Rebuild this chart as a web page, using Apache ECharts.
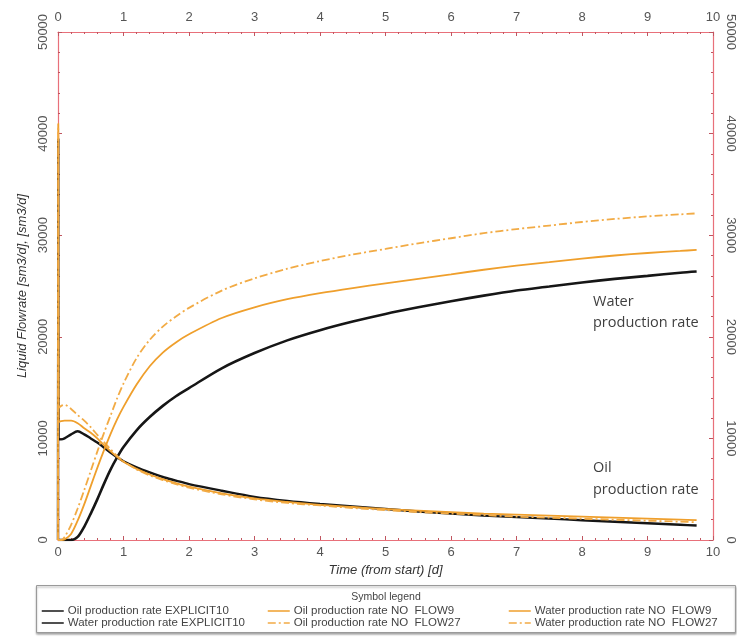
<!DOCTYPE html>
<html>
<head>
<meta charset="utf-8">
<script src="https://cdn.jsdelivr.net/npm/echarts@6/dist/echarts.min.js"></script>
<style>
html,body{margin:0;padding:0;background:#fff;}
#chart{width:737px;height:637px;}
</style>
</head>
<body>
<div id="chart"></div>
<script>
// ---- data ----
var timeDays = [0, 0.004, 0.008, 0.05, 0.1, 0.2, 0.3, 0.4, 0.5, 0.6, 0.7, 0.8, 0.9, 1.0, 1.2, 1.4, 1.6, 1.8, 2.0, 2.5, 3.0, 3.5, 4.0, 4.5, 5.0, 5.5, 6.0, 6.5, 7.0, 7.5, 8.0, 8.5, 9.0, 9.5, 9.75];

var oilExplicit10 = [0, 39500, 9900, 9900, 10000, 10400, 10700, 10400, 10000, 9600, 9100, 8600, 8150, 7750, 7150, 6650, 6200, 5850, 5500, 4850, 4250, 3850, 3550, 3300, 3050, 2800, 2600, 2400, 2250, 2100, 1950, 1800, 1650, 1500, 1420];
var waterExplicit10 = [0, 0, 0, 0, 0, 0, 300, 1300, 2600, 4000, 5500, 6900, 8100, 9150, 10800, 12100, 13200, 14150, 14950, 16900, 18400, 19650, 20650, 21500, 22250, 22900, 23500, 24050, 24550, 24950, 25350, 25700, 26000, 26300, 26420];
var oilNoFlow9 = [0, 41000, 11600, 11700, 11750, 11750, 11500, 11000, 10550, 10000, 9350, 8750, 8200, 7700, 7000, 6450, 6000, 5600, 5250, 4600, 4100, 3750, 3450, 3250, 3050, 2900, 2750, 2600, 2500, 2400, 2300, 2200, 2100, 2000, 1950];
var oilNoFlow27 = [0, 40500, 13000, 13200, 13300, 12900, 12300, 11750, 11100, 10350, 9650, 8950, 8300, 7750, 6950, 6350, 5900, 5500, 5150, 4500, 4000, 3650, 3400, 3150, 2950, 2750, 2600, 2450, 2300, 2200, 2100, 2000, 1900, 1800, 1750];
var waterNoFlow9 = [0, 0, 0, 0, 50, 600, 1900, 3500, 5300, 7100, 8800, 10400, 11850, 13100, 15300, 17100, 18450, 19450, 20250, 21850, 22900, 23700, 24300, 24800, 25250, 25700, 26150, 26600, 27000, 27350, 27700, 28000, 28250, 28450, 28550];
var waterNoFlow27 = [0, 0, 0, 0, 300, 1500, 3100, 4900, 6800, 8700, 10500, 12200, 13900, 15400, 17900, 19700, 21000, 22000, 22850, 24550, 25750, 26700, 27450, 28100, 28650, 29200, 29700, 30200, 30600, 30950, 31300, 31600, 31850, 32050, 32150];

var seriesNames = [
  'Oil production rate EXPLICIT10',
  'Water production rate EXPLICIT10',
  'Oil production rate NO  FLOW9',
  'Oil production rate NO  FLOW27',
  'Water production rate NO  FLOW9',
  'Water production rate NO  FLOW27'
];
var xTicks = [0, 10, 1];      // min, max, interval
var yTicks = [0, 50000, 10000];
var annotations = ['Water', 'production rate', 'Oil', 'production rate'];
var axisTitles = ['Time (from start) [d]', 'Liquid Flowrate [sm3/d], [sm3/d]'];
var legendTitle = 'Symbol legend';

// ---- build ----
function pairs(vals) { return timeDays.map(function (t, i) { return [t, vals[i]]; }); }

var BLACK = '#161616', ORANGE = '#ef9f2c', ORANGE2 = '#f2ab45', AXIS = '#e8707a';
var DASHDOT = [8, 3, 2, 3];

function lineSeries(name, vals, color, width, dash) {
  return {
    name: name, type: 'line', data: pairs(vals), showSymbol: false, symbol: 'none',
    smooth: 0.3, animation: false, xAxisIndex: 0, yAxisIndex: 0,
    lineStyle: { color: color, width: width, type: dash || 'solid' },
    itemStyle: { color: color }
  };
}

var xBase = {
  type: 'value', min: xTicks[0], max: xTicks[1], interval: xTicks[2],
  axisLine: { show: true, onZero: false, lineStyle: { color: AXIS, width: 1.2 } },
  axisTick: { show: true, inside: true, length: 4, lineStyle: { color: '#c05560' } },
  minorTick: { show: true, splitNumber: 5, length: 2, lineStyle: { color: '#c05560' } },
  splitLine: { show: false },
  axisLabel: { color: '#555', fontSize: 13, fontFamily: 'Liberation Sans' }
};
var yBase = {
  type: 'value', min: yTicks[0], max: yTicks[1], interval: yTicks[2],
  axisLine: { show: true, onZero: false, lineStyle: { color: AXIS, width: 1.2 } },
  axisTick: { show: true, inside: true, length: 4, lineStyle: { color: '#c05560' } },
  minorTick: { show: true, splitNumber: 5, length: 2, lineStyle: { color: '#c05560' } },
  splitLine: { show: false }
};
function plainNum(v) { return String(v); }

function legendCol(names, left) {
  return {
    data: names, orient: 'vertical', left: left, top: 605, padding: 0,
    itemGap: 0, itemWidth: 22, itemHeight: 10,
    itemStyle: { opacity: 0 },
    lineStyle: { width: 1.5 },
    textStyle: { fontSize: 11.5, color: '#444', fontFamily: 'Liberation Sans', padding: [0, 0, 0, -1] }
  };
}

var option = {
  backgroundColor: '#fff',
  animation: false,
  grid: { left: 58, right: 21, top: 32, bottom: 97, containLabel: false },
  xAxis: [
    Object.assign({}, xBase, {
      position: 'bottom',
      name: axisTitles[0], nameLocation: 'middle', nameGap: 23,
      nameTextStyle: { fontStyle: 'italic', fontSize: 13, color: '#333', fontFamily: 'Liberation Sans' },
      axisLabel: Object.assign({}, xBase.axisLabel, { margin: 6 })
    }),
    Object.assign({}, xBase, {
      position: 'top',
      axisLabel: Object.assign({}, xBase.axisLabel, { margin: 8 })
    })
  ],
  yAxis: [
    Object.assign({}, yBase, {
      position: 'left',
      name: axisTitles[1], nameLocation: 'middle', nameGap: 18,
      nameTextStyle: { fontStyle: 'italic', fontSize: 13, color: '#333', fontFamily: 'Liberation Sans' },
      axisLabel: { rotate: 90, margin: 8, color: '#555', fontSize: 13, fontFamily: 'Liberation Sans', formatter: plainNum }
    }),
    Object.assign({}, yBase, {
      position: 'right',
      axisLabel: { rotate: -90, margin: 11, color: '#555', fontSize: 13, fontFamily: 'Liberation Sans', formatter: plainNum }
    })
  ],
  legend: [
    legendCol([seriesNames[0], seriesNames[1]], 41),
    legendCol([seriesNames[2], seriesNames[3]], 267),
    legendCol([seriesNames[4], seriesNames[5]], 508)
  ],
  graphic: [
    { type: 'rect', z: 0, shape: { x: 36.5, y: 585.5, width: 699, height: 47 },
      style: { fill: '#fff', stroke: '#9a9a9a', lineWidth: 1, shadowColor: 'rgba(0,0,0,0.35)', shadowOffsetY: 1.5, shadowBlur: 2 } },
    { type: 'text', z: 5, x: 386, y: 597,
      style: { text: legendTitle, fill: '#444', font: '10.5px "Liberation Sans"', textAlign: 'center', textVerticalAlign: 'middle' } },
    { type: 'text', z: 5, x: 593, y: 302,
      style: { text: annotations[0], fill: '#3f3f3f', font: '14.5px "Open Sans"', textAlign: 'left', textVerticalAlign: 'middle' } },
    { type: 'text', z: 5, x: 593, y: 323,
      style: { text: annotations[1], fill: '#3f3f3f', font: '14.5px "Open Sans"', textAlign: 'left', textVerticalAlign: 'middle' } },
    { type: 'text', z: 5, x: 593, y: 468,
      style: { text: annotations[2], fill: '#3f3f3f', font: '14.5px "Open Sans"', textAlign: 'left', textVerticalAlign: 'middle' } },
    { type: 'text', z: 5, x: 593, y: 490,
      style: { text: annotations[3], fill: '#3f3f3f', font: '14.5px "Open Sans"', textAlign: 'left', textVerticalAlign: 'middle' } }
  ],
  series: [
    lineSeries(seriesNames[0], oilExplicit10, BLACK, 2.4),
    lineSeries(seriesNames[1], waterExplicit10, BLACK, 2.6),
    lineSeries(seriesNames[2], oilNoFlow9, ORANGE, 1.8),
    lineSeries(seriesNames[3], oilNoFlow27, ORANGE2, 1.8, DASHDOT),
    lineSeries(seriesNames[4], waterNoFlow9, ORANGE, 1.8),
    lineSeries(seriesNames[5], waterNoFlow27, ORANGE2, 1.8, DASHDOT)
  ]
};

var chart = echarts.init(document.getElementById('chart'), null, { renderer: 'canvas' });
chart.setOption(option);
</script>
</body>
</html>
